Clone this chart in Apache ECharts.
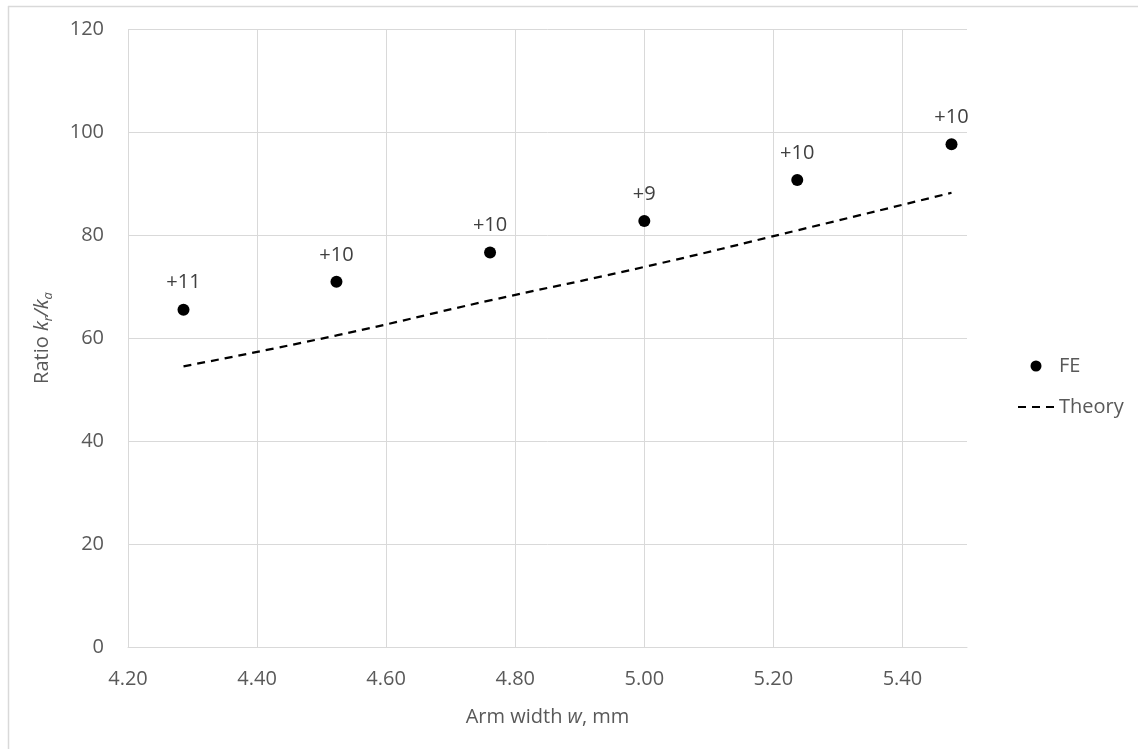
<!DOCTYPE html>
<html>
<head>
<meta charset="utf-8">
<script src="https://cdn.jsdelivr.net/npm/echarts@6/dist/echarts.min.js"></script>
<style>
  html, body { margin: 0; padding: 0; background: #fff; }
  #chart { width: 1138px; height: 749px; }
</style>
</head>
<body>
<div id="chart"></div>
<script>
// arm width w, mm
const armWidth = [4.286, 4.523, 4.761, 5.0, 5.237, 5.476];
// FE ratio kr/ka
const feRatio = [65.5, 70.9, 76.6, 82.7, 90.7, 97.6];
// theory ratio kr/ka
const theoryRatio = [54.5, 60.5, 67.3, 73.8, 80.9, 88.2];
// difference labels above FE points
const diffLabels = ["+11", "+10", "+10", "+9", "+10", "+10"];

const FONT = "'Open Sans', 'Noto Sans', sans-serif";
const GREY = "#595959";
const GRID = "#d9d9d9";

const chart = echarts.init(document.getElementById("chart"));

chart.setOption({
  backgroundColor: "#fff",
  textStyle: { fontFamily: FONT },
  animation: false,
  graphic: [
    // chart frame (left + top edges visible)
    { type: "line", shape: { x1: 8.5, y1: 6, x2: 8.5, y2: 749 }, style: { stroke: GRID, lineWidth: 1.5 } },
    { type: "line", shape: { x1: 8, y1: 6.5, x2: 1138, y2: 6.5 }, style: { stroke: GRID, lineWidth: 1.5 } }
  ],
  grid: { left: 128, right: 171, top: 29, bottom: 102 },
  legend: {
    orient: "vertical",
    left: 1012,
    top: 351,
    itemWidth: 36,
    itemHeight: 11,
    itemGap: 21,
    textStyle: { color: GREY, fontSize: 20, fontFamily: FONT },
    data: [
      { name: "FE", itemStyle: { color: "#000", opacity: 1 } },
      { name: "Theory", itemStyle: { opacity: 0 } }
    ]
  },
  xAxis: {
    type: "value",
    min: 4.2,
    max: 5.5,
    interval: 0.2,
    name: "Arm width {i|w}, mm",
    nameLocation: "middle",
    nameGap: 60,
    nameTextStyle: {
      color: GREY,
      fontSize: 20,
      rich: { i: { fontStyle: "italic", fontSize: 20, color: GREY } }
    },
    axisLine: { show: true, lineStyle: { color: GRID, width: 1 } },
    axisTick: { show: false },
    axisLabel: {
      color: GREY,
      fontSize: 20,
      margin: 22,
      showMaxLabel: false,
      formatter: v => v.toFixed(2)
    },
    splitLine: { show: true, showMaxLine: false, lineStyle: { color: GRID, width: 1 } }
  },
  yAxis: {
    type: "value",
    min: 0,
    max: 120,
    interval: 20,
    name: "Ratio {i|k}{s|r}{i|/}{i|k}{s|a}",
    nameLocation: "middle",
    nameRotate: 90,
    nameGap: 73,
    nameTextStyle: {
      color: GREY,
      fontSize: 20,
      lineHeight: 26,
      rich: {
        i: { fontStyle: "italic", fontSize: 20, color: GREY, lineHeight: 26 },
        s: { fontStyle: "italic", fontSize: 13, color: GREY, lineHeight: 14, verticalAlign: "bottom" }
      }
    },
    axisLine: { show: false },
    axisTick: { show: false },
    axisLabel: { color: GREY, fontSize: 20, margin: 24 },
    splitLine: { show: true, lineStyle: { color: GRID, width: 1 } }
  },
  series: [
    {
      name: "FE",
      type: "scatter",
      symbol: "circle",
      symbolSize: 12,
      itemStyle: { color: "#000", opacity: 1 },
      data: armWidth.map((w, i) => [w, feRatio[i]]),
      label: {
        show: true,
        position: "top",
        distance: 11,
        color: "#404040",
        fontSize: 20,
        fontFamily: FONT,
        formatter: p => diffLabels[p.dataIndex]
      },
      z: 3
    },
    {
      name: "Theory",
      type: "line",
      smooth: true,
      showSymbol: false,
      symbol: "none",
      itemStyle: { color: "#000" },
      lineStyle: { color: "#000", width: 2.25, type: [8, 6] },
      data: armWidth.map((w, i) => [w, theoryRatio[i]]),
      z: 2
    }
  ]
});
</script>
</body>
</html>
